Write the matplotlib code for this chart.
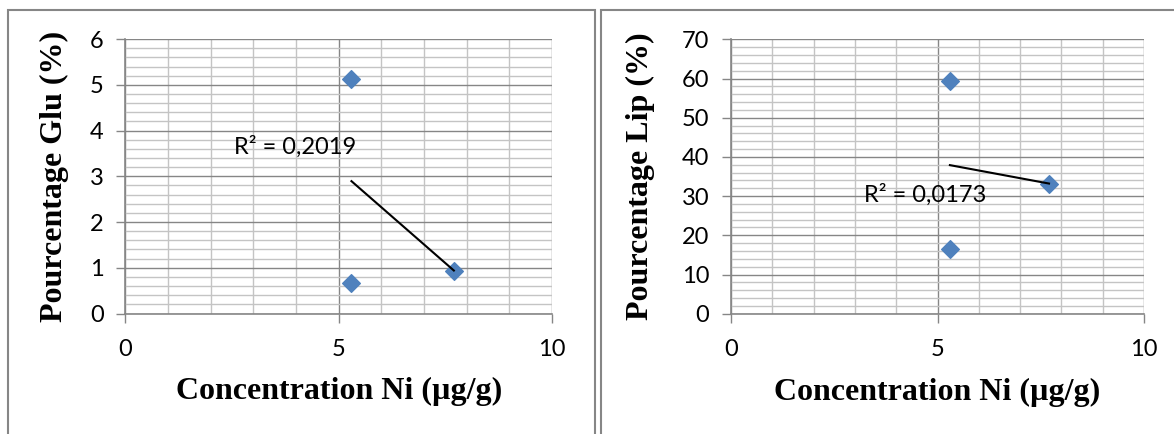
import numpy as np
import matplotlib.pyplot as plt
from matplotlib.patches import Rectangle
from matplotlib.ticker import MultipleLocator

# valeurs
ni = [5.3, 5.3, 7.7]
glu = [5.13, 0.66, 0.94]
lip = [59.4, 16.4, 33.2]
r2_glu = 'R² = 0,2019'
r2_lip = 'R² = 0,0173'

bleu = '#4f81bd'
gris = '#868686'
gris_clair = '#c4c4c4'
tick_font = 'Lato'
label_font = 'Liberation Serif'

fig = plt.figure(figsize=(11.74, 4.34), dpi=100)

# cadres des deux graphiques
W, H = 1174, 434
fig.add_artist(Rectangle((8 / W, -0.1), (595 - 8) / W, 1.1 - 10 / H,
                         transform=fig.transFigure, fill=False, edgecolor=gris, lw=1.5))
fig.add_artist(Rectangle((601 / W, -0.1), 0.5, 1.1 - 10 / H,
                         transform=fig.transFigure, fill=False, edgecolor=gris, lw=1.5))


def panneau(pos, y, ymax, ymaj, ymin, ylabel, r2, r2_xy, ylab_x):
    ax = fig.add_axes(pos)
    ax.set_axisbelow(True)
    ax.scatter(ni, y, marker='D', s=9 ** 2, color=bleu, edgecolors=bleu, lw=1, zorder=3)

    z = np.polyfit(ni, y, 1)
    p = np.poly1d(z)
    xs = np.array([min(ni), max(ni)])
    ax.plot(xs, p(xs), color='black', lw=1.5, zorder=4)

    ax.set_xlim(0, 10)
    ax.set_ylim(0, ymax)
    ax.xaxis.set_major_locator(MultipleLocator(5))
    ax.xaxis.set_minor_locator(MultipleLocator(1))
    ax.yaxis.set_major_locator(MultipleLocator(ymaj))
    ax.yaxis.set_minor_locator(MultipleLocator(ymin))

    ax.grid(True, which='minor', color=gris_clair, lw=1)
    ax.grid(True, which='major', color=gris, lw=1)

    for s in ['top', 'right']:
        ax.spines[s].set_visible(False)
    for s in ['left', 'bottom']:
        ax.spines[s].set_color(gris)
        ax.spines[s].set_linewidth(1.2)

    ax.tick_params(which='major', direction='out', length=6.5, width=1, color=gris,
                   labelsize=17)
    ax.tick_params(axis='x', which='major', pad=12)
    ax.tick_params(axis='y', which='major', pad=9)
    ax.tick_params(which='minor', length=0)
    for t in ax.get_xticklabels() + ax.get_yticklabels():
        t.set_fontfamily(tick_font)

    ax.text(r2_xy[0], r2_xy[1], r2, fontsize=17, family=tick_font, va='center', zorder=5)

    ax.set_xlabel('Concentration Ni (µg/g)', fontsize=23, fontweight='bold', family=label_font)
    ax.set_ylabel(ylabel, fontsize=23, fontweight='bold', family=label_font)
    ax.xaxis.set_label_coords(0.5, -0.286)
    ax.xaxis.label.set_va('center')
    ax.yaxis.set_label_coords(ylab_x, 0.5)
    ax.yaxis.label.set_va('center')
    ax.yaxis.label.set_ha('center')
    return ax


panneau([125.3 / W, 1 - 313.5 / H, 426.7 / W, 274.3 / H], glu, 6, 1, 0.2,
        'Pourcentage Glu (%)', r2_glu, (2.55, 3.64), -0.167)
panneau([731 / W, 1 - 313.7 / H, 413 / W, 274.4 / H], lip, 70, 10, 2,
        'Pourcentage Lip (%)', r2_lip, (3.21, 30.3), -0.220)

plt.savefig('out.png', dpi=100)
